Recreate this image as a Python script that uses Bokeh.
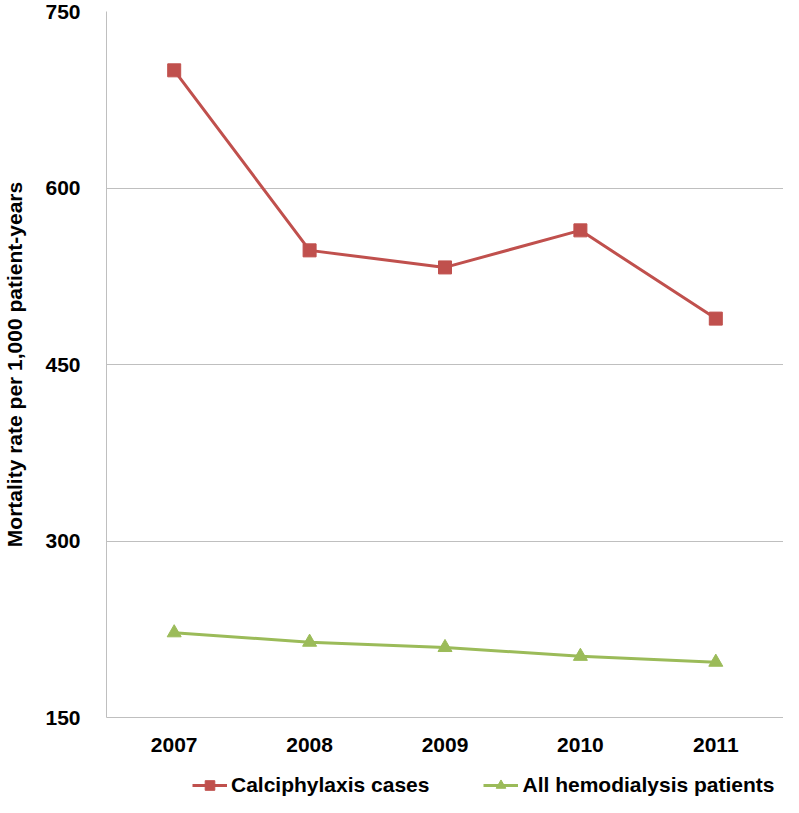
from bokeh.plotting import figure
from bokeh.layouts import column
from bokeh.models import Range1d, Legend, LegendItem, FixedTicker, FactorRange
from bokeh.embed import file_html
from bokeh.resources import INLINE

years = ["2007", "2008", "2009", "2010", "2011"]
calciphylaxis = [700, 547, 532.5, 564, 489]
hemodialysis = [222, 214, 209.5, 202, 197]
y_ticks = [150, 300, 450, 600, 750]
series_names = ["Calciphylaxis cases", "All hemodialysis patients"]

RED = "#C0504D"
GREEN = "#9BBB59"
GRID = "#BFBFBF"
FONT = "Liberation Sans"
FS = "21px"

p = figure(width=783, height=755, x_range=years, y_range=Range1d(150, 750),
           output_backend="svg", toolbar_location=None,
           min_border_left=96, min_border_right=0, min_border_top=11, min_border_bottom=38)
p.outline_line_color = None
p.background_fill_color = "white"

p.line(years, calciphylaxis, line_color=RED, line_width=3)
p.scatter(years, calciphylaxis, marker="square", size=13, fill_color=RED, line_color=RED)
p.line(years, hemodialysis, line_color=GREEN, line_width=3)
p.scatter(years, hemodialysis, marker="triangle", size=14, fill_color=GREEN, line_color=GREEN)

p.yaxis.ticker = FixedTicker(ticks=y_ticks)
p.yaxis.axis_label = "Mortality rate per 1,000 patient-years"
p.yaxis.axis_label_text_font = FONT
p.yaxis.axis_label_text_font_style = "bold"
p.yaxis.axis_label_text_font_size = FS
p.yaxis.axis_label_text_color = "black"
p.yaxis.axis_label_standoff = 16
p.yaxis.axis_line_color = GRID
p.yaxis.major_tick_line_color = None
p.yaxis.minor_tick_line_color = None
p.yaxis.major_label_standoff = 20
p.yaxis.major_label_text_font = FONT
p.yaxis.major_label_text_font_style = "bold"
p.yaxis.major_label_text_font_size = FS
p.yaxis.major_label_text_color = "black"

p.xaxis.axis_line_color = GRID
p.xaxis.major_tick_line_color = None
p.xaxis.minor_tick_line_color = None
p.xaxis.major_label_standoff = 14
p.xaxis.major_label_text_font = FONT
p.xaxis.major_label_text_font_style = "bold"
p.xaxis.major_label_text_font_size = FS
p.xaxis.major_label_text_color = "black"

p.xgrid.grid_line_color = None
p.ygrid.grid_line_color = GRID
p.ygrid.grid_line_width = 1

# legend strip below the chart (series drawn out of its visible y range, only the legend shows)
lg = figure(width=783, height=42, x_range=FactorRange(*years), y_range=Range1d(0, 1),
            output_backend="svg", toolbar_location=None,
            x_axis_location=None, y_axis_location=None,
            min_border_left=0, min_border_right=0, min_border_top=0, min_border_bottom=0)
lg.outline_line_color = None
lg.xgrid.grid_line_color = None
lg.ygrid.grid_line_color = None
d1 = lg.line(years, calciphylaxis, line_color=RED, line_width=3)
m1 = lg.scatter(years, calciphylaxis, marker="square", size=13, fill_color=RED, line_color=RED)
d2 = lg.line(years, hemodialysis, line_color=GREEN, line_width=3)
m2 = lg.scatter(years, hemodialysis, marker="triangle", size=14, fill_color=GREEN, line_color=GREEN)

legend = Legend(items=[LegendItem(label=series_names[0], renderers=[d1, m1]),
                       LegendItem(label=series_names[1], renderers=[d2, m2])],
                orientation="horizontal", location=(86, 0),
                border_line_color=None, background_fill_alpha=0,
                label_text_font=FONT, label_text_font_size="21px", label_text_font_style="bold",
                label_text_color="black",
                glyph_width=35, glyph_height=24, label_standoff=4, spacing=54,
                padding=0, margin=0)
lg.add_layout(legend, "center")

layout = column(p, lg, spacing=0)
open("out.html", "w").write(file_html(layout, INLINE))
